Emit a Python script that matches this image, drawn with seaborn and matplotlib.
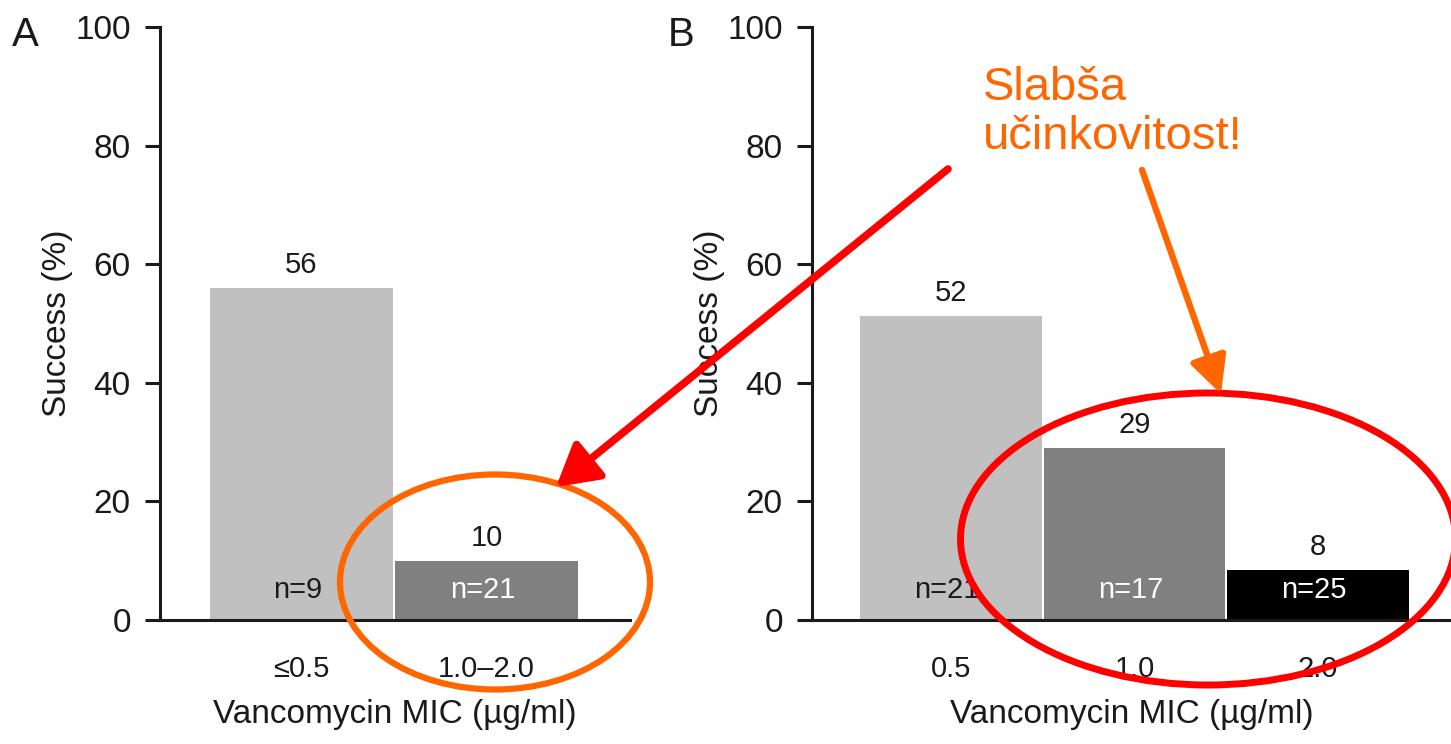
import seaborn as sns
import matplotlib.pyplot as plt
import pandas as pd
from matplotlib.patches import Ellipse, FancyArrowPatch

# panel A
a_mic = ["≤0.5", "1.0–2.0"]
a_success = [56, 10]
a_labels = ["56", "10"]
a_n = ["n=9", "n=21"]

# panel B
b_mic = ["0.5", "1.0", "2.0"]
b_success = [51.3, 29, 8.4]
b_labels = ["52", "29", "8"]
b_n = ["n=21", "n=17", "n=25"]

bar_colors = ["#c0c0c0", "#808080", "#000000"]
n_colors = ["#1a1a1a", "white", "white"]
ink = "#1a1a1a"

sns.set_style("ticks")
plt.rcParams['font.family'] = ['Liberation Sans', 'DejaVu Sans']

W, H = 1451, 744
fig = plt.figure(figsize=(W / 100, H / 100), dpi=100)


def fx(x):
    return x / W


def fy(y):
    return 1 - y / H


def panel(rect, mic, success, labels, n, xlim):
    ax = fig.add_axes(rect)
    df = pd.DataFrame({"mic": mic, "success": success})
    sns.barplot(data=df, x="mic", y="success", hue="mic",
                palette=bar_colors[:len(mic)], saturation=1, width=0.99,
                linewidth=0, legend=False, ax=ax)
    for i, v in enumerate(success):
        ax.text(i, v + 1.5, labels[i], ha='center', va='bottom', fontsize=21, color=ink)
        ax.text(i - 0.02, 5, n[i], ha='center', va='center', fontsize=21, color=n_colors[i])
    ax.set_xlim(xlim)
    ax.set_ylim(0, 100)
    ax.set_yticks([0, 20, 40, 60, 80, 100])
    sns.despine(ax=ax)
    ax.spines['left'].set_linewidth(2.2)
    ax.spines['bottom'].set_linewidth(2.2)
    ax.spines['left'].set_color(ink)
    ax.spines['bottom'].set_color(ink)
    ax.tick_params(axis='y', length=11, width=2.2, labelsize=24, pad=10, colors=ink)
    ax.tick_params(axis='x', length=0, labelsize=21, pad=25, colors=ink)
    ax.set_xlabel("Vancomycin MIC (µg/ml)", fontsize=24, labelpad=12, color=ink)
    ax.set_ylabel("Success (%)", fontsize=24, labelpad=2, color=ink)
    ax.patch.set_alpha(0)
    return ax


ax_a = panel([fx(160), fy(620), fx(630) - fx(160), fy(27) - fy(620)],
             a_mic, a_success, a_labels, a_n, (-0.762, 1.773))
ax_b = panel([fx(812), fy(620), fx(1451) - fx(812), fy(27) - fy(620)],
             b_mic, b_success, b_labels, b_n, (-0.757, 2.725))

fig.text(fx(12), fy(46), "A", fontsize=29, color=ink, ha='left', va='baseline')
fig.text(fx(668), fy(46), "B", fontsize=29, color=ink, ha='left', va='baseline')

orange = "#ff6600"
red = "#ff0000"

# annotations drawn on top of everything in figure coordinates
fig.add_artist(Ellipse((fx(495), fy(582)), fx(310), 215 / H, fill=False,
                       edgecolor=orange, linewidth=4.5, transform=fig.transFigure))
fig.add_artist(Ellipse((fx(1208), fy(539)), fx(495), 292 / H, fill=False,
                       edgecolor=red, linewidth=5, transform=fig.transFigure))

fig.add_artist(FancyArrowPatch((fx(948), fy(169)), (fx(556), fy(487)),
                               arrowstyle="-|>,head_length=1.4,head_width=0.8",
                               mutation_scale=18, color=red, linewidth=5.5,
                               shrinkA=0, shrinkB=0, transform=fig.transFigure))
fig.add_artist(FancyArrowPatch((fx(1142), fy(170)), (fx(1221), fy(394)),
                               arrowstyle="-|>,head_length=1.4,head_width=0.7",
                               mutation_scale=16, color=orange, linewidth=4.6,
                               shrinkA=0, shrinkB=0, transform=fig.transFigure))

fig.text(fx(983), fy(66), "Slabša\nučinkovitost!", fontsize=34, color=orange,
         ha='left', va='top', linespacing=1.15)

fig.savefig("out.png", dpi=100)
